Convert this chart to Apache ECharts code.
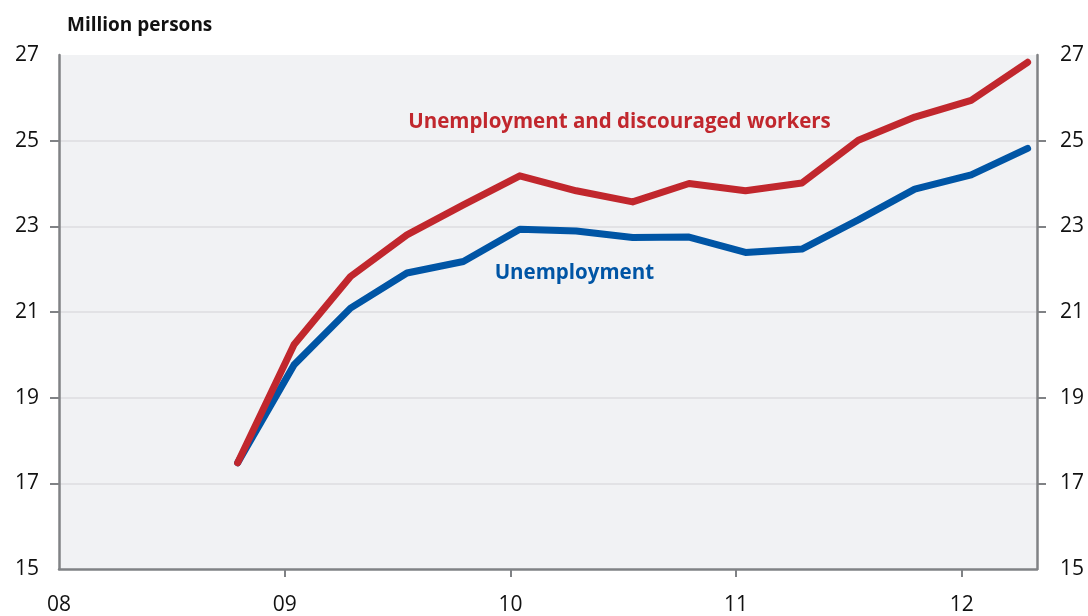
<!DOCTYPE html>
<html>
<head>
<meta charset="utf-8">
<script src="https://cdn.jsdelivr.net/npm/echarts@6/dist/echarts.min.js"></script>
<style>
  html, body { margin: 0; padding: 0; background: #fff; }
  #main { width: 1088px; height: 616px; }
</style>
</head>
<body>
<div id="main"></div>
<script>
// months since Jan 2008, quarterly points (mid-month)
var months = [9.5, 12.5, 15.5, 18.5, 21.5, 24.5, 27.5, 30.5, 33.5, 36.5, 39.5, 42.5, 45.5, 48.5, 51.5];
var unemployment = [17.48, 19.77, 21.09, 21.91, 22.18, 22.93, 22.89, 22.74, 22.75, 22.39, 22.47, 23.15, 23.87, 24.2, 24.82];
var discouraged = [17.48, 20.24, 21.83, 22.8, 23.5, 24.18, 23.83, 23.57, 24.0, 23.83, 24.01, 25.01, 25.55, 25.94, 26.83];
var yearTicks = [0, 12, 24, 36, 48];
var yearLabels = ['08', '09', '10', '11', '12'];

var FONT = 'Open Sans';
var axisGrey = '#808285';

function pairs(xs, ys) {
    var out = [];
    for (var i = 0; i < xs.length; i++) {
        out.push([xs[i], ys[i]]);
    }
    return out;
}

var chart = echarts.init(document.getElementById('main'));

var yAxisBase = {
    type: 'value',
    min: 15,
    max: 27,
    interval: 2,
    axisLine: { show: true, lineStyle: { color: axisGrey, width: 2.5 } },
    axisTick: { show: true, length: 9, customValues: [17, 19, 21, 23, 25], lineStyle: { color: axisGrey, width: 2 } },
    axisLabel: { color: '#111', fontFamily: FONT, fontSize: 21, margin: 20 }
};

var option = {
    animation: false,
    backgroundColor: '#ffffff',
    grid: {
        left: 59, right: 51, top: 55, bottom: 47,
        show: true,
        backgroundColor: '#f1f2f4',
        borderWidth: 0
    },
    title: {
        text: 'Million persons',
        left: 62, top: 11,
        textStyle: { fontFamily: FONT, fontWeight: 'bold', fontSize: 19, color: '#111' }
    },
    xAxis: {
        type: 'value',
        min: 0,
        max: 52,
        interval: 12,
        splitLine: { show: false },
        axisLine: { show: true, lineStyle: { color: axisGrey, width: 2.5 } },
        axisTick: { show: true, length: 8, customValues: [12, 24, 36, 48], lineStyle: { color: axisGrey, width: 2 } },
        axisLabel: {
            customValues: yearTicks,
            color: '#111', fontFamily: FONT, fontSize: 21, margin: 26,
            formatter: function (v) {
                var i = yearTicks.indexOf(v);
                return i >= 0 ? yearLabels[i] : '';
            }
        }
    },
    yAxis: [
        Object.assign({}, yAxisBase, {
            position: 'left',
            splitLine: { show: true, lineStyle: { color: '#dcdde0', width: 1.5 } }
        }),
        Object.assign({}, yAxisBase, {
            position: 'right',
            splitLine: { show: false },
            axisLabel: { color: '#111', fontFamily: FONT, fontSize: 21, margin: 23 }
        })
    ],
    series: [
        {
            name: 'Unemployment',
            type: 'line',
            data: pairs(months, unemployment),
            symbol: 'none',
            lineStyle: { color: '#0055a5', width: 7, cap: 'round', join: 'round' },
            markPoint: {
                symbol: 'circle', symbolSize: 0,
                label: {
                    show: true, position: 'inside', formatter: 'Unemployment',
                    color: '#0055a5', fontFamily: FONT, fontWeight: 'bold', fontSize: 20.5
                },
                data: [{ coord: [27.4, 21.91] }]
            }
        },
        {
            name: 'Unemployment and discouraged workers',
            type: 'line',
            data: pairs(months, discouraged),
            symbol: 'none',
            lineStyle: { color: '#c1272d', width: 7, cap: 'round', join: 'round' },
            markPoint: {
                symbol: 'circle', symbolSize: 0,
                label: {
                    show: true, position: 'inside', formatter: 'Unemployment and discouraged workers',
                    color: '#c1272d', fontFamily: FONT, fontWeight: 'bold', fontSize: 20.5
                },
                data: [{ coord: [29.8, 25.43] }]
            }
        }
    ]
};

chart.setOption(option);
</script>
</body>
</html>
